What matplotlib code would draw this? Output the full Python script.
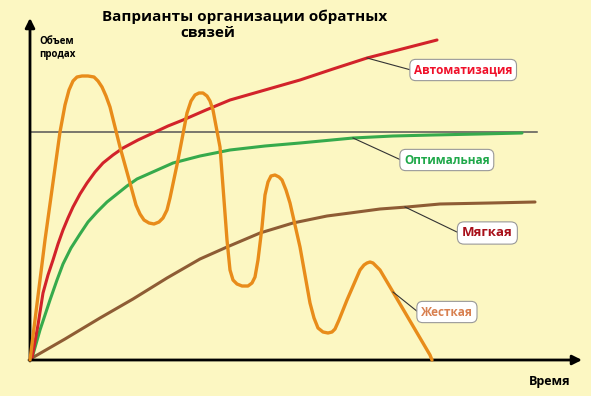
# Варианты организации обратных связей: объем продаж во времени
import matplotlib.pyplot as plt

BG = "#FCF7C2"

# время (ось X) и объем продаж (ось Y) для каждого варианта
auto_t = [2, 8, 13, 18, 23, 28, 33, 38, 43, 50, 57, 65, 73, 83, 93, 108, 123, 138,
          153, 176, 200, 235, 270, 303, 337, 372, 407]
auto_v = [2, 35, 67, 85, 100, 116, 130, 142, 153, 166, 177, 188, 197, 205, 212, 220,
          227, 234, 240, 250, 260, 270, 280, 291, 302, 311, 320]

opt_t = [2, 10, 20, 27, 33, 41, 50, 58, 67, 77, 87, 97, 107, 125, 143, 170, 200, 235,
         270, 323, 363, 403, 450, 492]
opt_v = [2, 30, 60, 80, 96, 112, 126, 138, 148, 158, 166, 174, 181, 189, 197, 204,
         210, 214, 217, 222, 224, 225, 226, 227]

soft_t = [2, 35, 70, 103, 137, 170, 197, 230, 263, 297, 320, 350, 377, 410, 460, 505]
soft_v = [2, 21, 42, 61, 82, 101, 113, 127, 137, 144, 147, 151, 153, 156, 157, 158]

hard_t = [0, 15, 30, 35, 39, 43, 47, 52, 58, 64, 68, 72, 76, 80, 90, 100, 106, 110,
          114, 119, 124, 129, 133, 137, 140, 148, 157, 161, 165, 169, 173, 177, 180,
          183, 190, 194, 197, 200, 203, 207, 212, 218, 222, 225, 228, 232, 235, 238,
          241, 245, 249, 252, 256, 260, 270, 280, 284, 288, 293, 298, 302, 305, 309,
          317, 330, 334, 337, 340, 343, 347, 350, 363, 400, 402]
hard_v = [0, 120, 228, 255, 270, 279, 283, 284, 284, 283, 279, 273, 264, 253, 213,
          177, 155, 146, 140, 137, 136, 138, 142, 150, 162, 200, 247, 259, 265, 267,
          267, 264, 259, 250, 213, 160, 120, 90, 80, 76, 74, 74, 77, 83, 100, 133,
          165, 178, 184, 185, 183, 180, 170, 157, 113, 57, 42, 32, 28, 27, 28, 31, 40,
          60, 90, 95, 97, 98, 97, 93, 90, 68, 5, 0]

limit_v = 228  # горизонтальная линия-предел

labels = ["Автоматизация", "Оптимальная", "Мягкая", "Жесткая"]
label_colors = ["#F0102A", "#1FA84A", "#A8101A", "#D88050"]
label_sizes = [8.5, 8.5, 9.5, 8.5]
label_anchor = [(337, 302), (323, 222), (375, 153), (363, 68)]
label_pos = [(384, 290), (374, 200), (432, 127), (391, 48)]


def main():
    plt.rcParams["font.family"] = ["Open Sans", "DejaVu Sans"]
    fig = plt.figure(figsize=(5.91, 3.96), dpi=100, facecolor=BG)
    ax = fig.add_axes([0, 0, 1, 1])
    ax.set_facecolor(BG)
    ax.set_xlim(-30, 561)
    ax.set_ylim(-36, 360)
    ax.axis("off")

    style = dict(solid_joinstyle="round", solid_capstyle="round", zorder=3)
    ax.plot([0, 507], [limit_v, limit_v], color="#555555", lw=1.1, zorder=2)
    ax.plot(soft_t, soft_v, color="#8E5C34", lw=2.2, **style)
    ax.plot(opt_t, opt_v, color="#36AA4C", lw=2.2, **style)
    ax.plot(auto_t, auto_v, color="#D2232A", lw=2.2, **style)
    ax.plot(hard_t, hard_v, color="#E88C1A", lw=2.4, solid_joinstyle="round",
            solid_capstyle="round", zorder=4)

    # оси со стрелками
    ax.annotate("", xy=(0, 342), xytext=(0, -1),
                arrowprops=dict(arrowstyle="-|>", lw=2, color="black",
                                mutation_scale=14, shrinkA=0, shrinkB=0))
    ax.annotate("", xy=(552, 0), xytext=(-1, 0),
                arrowprops=dict(arrowstyle="-|>", lw=2, color="black",
                                mutation_scale=14, shrinkA=0, shrinkB=0))

    # подписи вариантов с выносками
    for text, col, fs, (ax_t, ax_v), (lx, ly) in zip(labels, label_colors, label_sizes,
                                                     label_anchor, label_pos):
        ax.plot([ax_t, lx - 3], [ax_v, ly], color="#333333", lw=0.8, zorder=5)
        ax.text(lx, ly, text, color=col, fontsize=fs, fontweight="bold",
                va="center", ha="left", zorder=6,
                bbox=dict(boxstyle="round,pad=0.35,rounding_size=0.5",
                          fc="white", ec="#999999", lw=0.8))

    ax.text(215, 343, "Ваприанты организации обратных", fontsize=11, fontweight="bold",
            ha="center", va="center")
    ax.text(178, 327, "связей", fontsize=11, fontweight="bold", ha="center", va="center")
    ax.text(9, 312, "Объем\nпродах", fontsize=7, fontweight="bold", ha="left",
            va="center", linespacing=1.3)
    ax.text(520, -21, "Время", fontsize=9, fontweight="bold", ha="center", va="center")

    fig.savefig("out.png", dpi=100, facecolor=BG)
    plt.close(fig)


if __name__ == "__main__":
    main()
